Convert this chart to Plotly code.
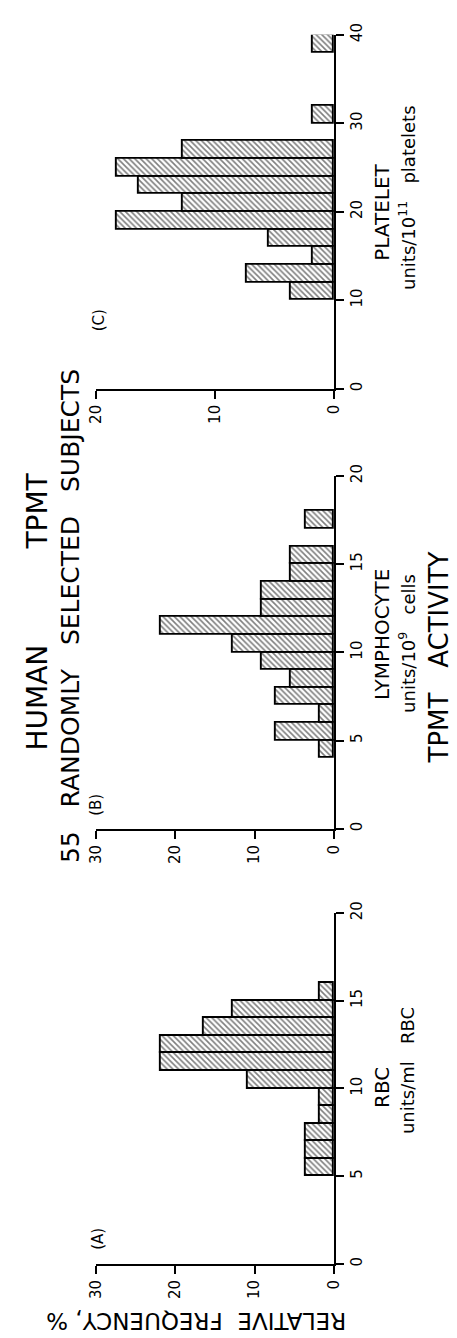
import plotly.graph_objects as go

W, H = 457, 1338

# ---- data (bin lower edges, relative frequency %) ----
rbc_bins = [5, 6, 7, 8, 9, 10, 11, 12, 13, 14, 15]
rbc_freq = [3.6, 3.6, 3.6, 1.8, 1.8, 10.9, 21.8, 21.8, 16.4, 12.7, 1.8]

lym_bins = [4, 5, 6, 7, 8, 9, 10, 11, 12, 13, 14, 15, 17]
lym_freq = [1.8, 7.3, 1.8, 7.3, 5.5, 9.1, 12.7, 21.8, 9.1, 9.1, 5.5, 5.5, 3.6]

plt_bins = [10, 12, 14, 16, 18, 20, 22, 24, 26, 30, 38]
plt_freq = [3.6, 7.3, 1.8, 5.5, 18.2, 12.7, 16.4, 18.2, 12.7, 1.8, 1.8]

rbc_ticks = [0, 5, 10, 15, 20]
lym_ticks = [0, 5, 10, 15, 20]
plt_ticks = [0, 10, 20, 30, 40]
freq_ticks_ab = [0, 10, 20, 30]
freq_ticks_c = [0, 10, 20]

FONT = "DejaVu Sans"
NB = "\u00a0"


def px(x):
    return x / W


def py(y):
    return 1 - y / H


panels = [
    # (bins, freq, binwidth, cat max, cat ticks, freq max, freq ticks, ypix bottom, ypix top)
    (rbc_bins, rbc_freq, 1, 20, rbc_ticks, 30, freq_ticks_ab, 1258, 903),
    (lym_bins, lym_freq, 1, 20, lym_ticks, 30, freq_ticks_ab, 818, 461),
    (plt_bins, plt_freq, 2, 40, plt_ticks, 20, freq_ticks_c, 373, 15),
]

fig = go.Figure()
layout = {}
for i, (bins, freq, bw, cmax, cticks, fmax, fticks, yb, yt) in enumerate(panels, start=1):
    xa = "x" if i == 1 else f"x{i}"
    ya = "y" if i == 1 else f"y{i}"
    fig.add_trace(go.Bar(
        orientation="h",
        x=freq,
        y=[b + bw / 2 for b in bins],
        width=bw,
        xaxis=xa, yaxis=ya,
        marker=dict(
            color="white",
            line=dict(color="black", width=1.9),
            pattern=dict(shape="\\", fgcolor="black", bgcolor="white", size=4, solidity=0.4),
        ),
        showlegend=False,
        hoverinfo="skip",
    ))
    layout[f"xaxis{'' if i == 1 else i}"] = dict(
        domain=[px(82), px(330)], anchor=ya, range=[fmax, 0],
        showline=True, linecolor="black", linewidth=2,
        ticks="outside", ticklen=8, tickwidth=1.5, tickcolor="black",
        tickvals=fticks, ticktext=[str(t) for t in fticks], tickangle=-90,
        tickfont=dict(family=FONT, size=15, color="black"),
        showgrid=False, zeroline=False, fixedrange=True,
    )
    layout[f"yaxis{'' if i == 1 else i}"] = dict(
        domain=[py(yb), py(yt)], anchor=xa, side="right", range=[0, cmax],
        showline=True, linecolor="black", linewidth=2,
        ticks="outside", ticklen=8, tickwidth=1.5, tickcolor="black",
        tickvals=cticks, ticktext=[str(t) for t in cticks], tickangle=-90,
        tickfont=dict(family=FONT, size=15, color="black"),
        showgrid=False, zeroline=False, fixedrange=True,
    )


def ann(text, x, y, size, angle=-90):
    return dict(text=text, x=px(x), y=py(y), xref="paper", yref="paper",
                showarrow=False, textangle=angle, xanchor="center", yanchor="middle",
                font=dict(family=FONT, size=size, color="black"))


annotations = [
    ann("HUMAN", 21, 685, 28),
    ann("TPMT", 21, 497, 28),
    ann(f"55{NB*3}RANDOMLY{NB*3}SELECTED{NB*3}SUBJECTS", 55, 603, 25),
    ann("(A)", 85, 1233, 15),
    ann("(B)", 82, 794, 15),
    ann("(C)", 85, 304, 15),
    ann("RBC", 380, 1080, 20),
    ann(f"units/ml{NB*3}RBC", 406, 1063, 18),
    ann("LYMPHOCYTE", 380, 622, 20),
    ann(f"units/10<sup>9</sup>{NB*3}cells", 406, 631, 18),
    ann("PLATELET", 380, 195, 20),
    ann(f"units/10<sup>11</sup>{NB*3}platelets", 406, 180, 18),
    ann(f"TPMT{NB*3}ACTIVITY", 439, 645, 26),
    ann(f"RELATIVE{NB*2}FREQUENCY,{NB}%", 187, 1315, 23, angle=180),
]

fig.update_layout(
    width=W, height=H, autosize=False,
    margin=dict(l=0, r=0, t=0, b=0),
    paper_bgcolor="white", plot_bgcolor="white",
    bargap=0, showlegend=False,
    annotations=annotations,
    **layout,
)

fig.write_html("out.html")
